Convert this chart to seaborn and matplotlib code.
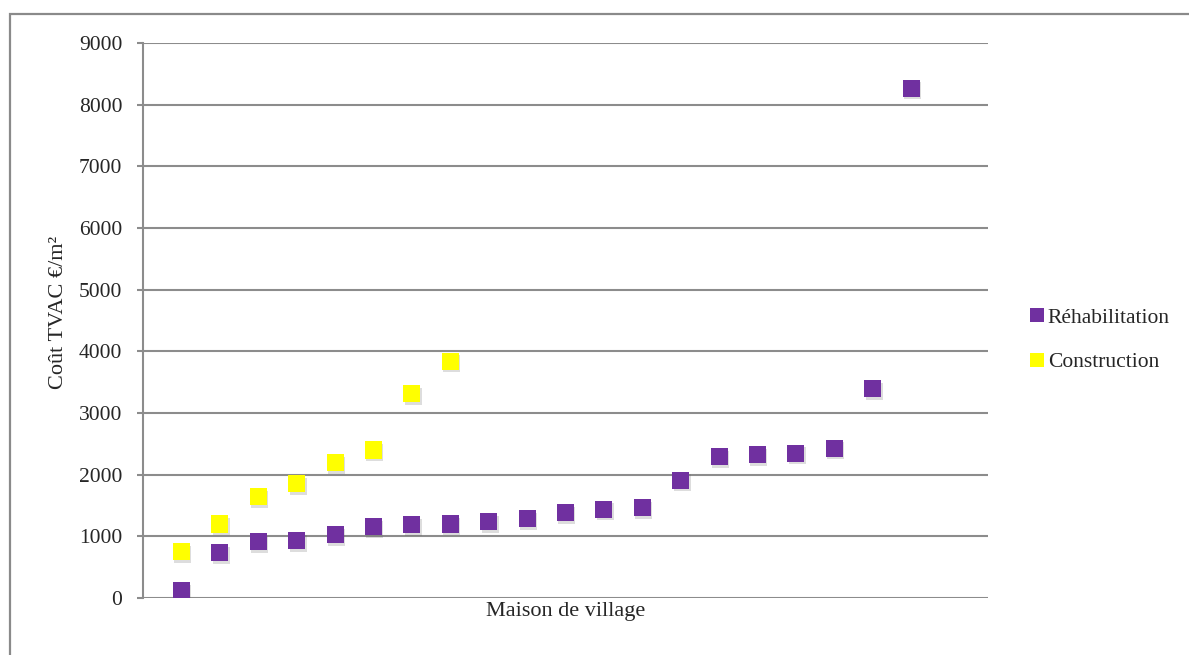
import matplotlib
matplotlib.use("Agg")
import matplotlib.pyplot as plt
import matplotlib.patheffects as pe
from matplotlib.patches import Rectangle
import seaborn as sns
import pandas as pd

# Coût TVAC par m² des maisons de village, triés par ordre croissant
rehabilitation = [120, 730, 920, 930, 1030, 1160, 1190, 1200, 1240, 1290,
                  1390, 1440, 1470, 1910, 2290, 2320, 2350, 2430, 3390, 8270]
construction = [750, 1200, 1650, 1850, 2200, 2400, 3320, 3840]
series_names = ["Réhabilitation", "Construction"]
series_colors = ["#7030A0", "#FFFF00"]
y_ticks = [0, 1000, 2000, 3000, 4000, 5000, 6000, 7000, 8000, 9000]

df = pd.concat([
    pd.DataFrame({"rang": range(1, len(rehabilitation) + 1),
                  "cout": rehabilitation, "type": series_names[0]}),
    pd.DataFrame({"rang": range(1, len(construction) + 1),
                  "cout": construction, "type": series_names[1]}),
], ignore_index=True)

sns.set_style("white")
plt.rcParams["font.family"] = ["Liberation Serif", "DejaVu Serif"]

fig = plt.figure(figsize=(11.89, 6.55), dpi=100)
# cadre gris autour du graphique
fig.patches.append(Rectangle((10 / 1189, -0.1), 1.2, (655 - 14) / 655 + 0.1,
                             transform=fig.transFigure, fill=False,
                             edgecolor="#8a8a8a", linewidth=1.6))
ax = fig.add_axes([143 / 1189, 57 / 655, 845 / 1189, 555 / 655])

sns.scatterplot(data=df, x="rang", y="cout", hue="type",
                palette=dict(zip(series_names, series_colors)),
                marker="s", s=150, linewidth=0, ax=ax, legend=False, zorder=3)
for coll in ax.collections:
    coll.set_path_effects([pe.SimplePatchShadow(offset=(1.0, -2.0),
                                                shadow_rgbFace="#666666",
                                                alpha=0.22),
                           pe.Normal()])

ax.set_xlim(0, 22)
ax.set_ylim(0, 9000)
ax.set_yticks(y_ticks)
ax.set_xticks([])
ax.grid(axis="y", color="#8c8c8c", linewidth=1.5)
ax.set_axisbelow(True)
for side in ["top", "right", "bottom"]:
    ax.spines[side].set_visible(False)
ax.spines["left"].set_color("#8c8c8c")
ax.spines["left"].set_linewidth(1.5)
ax.tick_params(axis="y", length=4.5, width=1.5, color="#8c8c8c",
               labelsize=15.5, pad=10.5, left=True)
ax.set_xlabel("Maison de village", fontsize=16, labelpad=3)
ax.set_ylabel("Coût TVAC €/m²", fontsize=16)
ax.yaxis.set_label_coords(-0.089, 0.514)

handles = [plt.Line2D([], [], marker="s", linestyle="none", markersize=10,
                      markerfacecolor=c, markeredgewidth=0)
           for c in series_colors]
fig.legend(handles, series_names, loc="center left",
           bbox_to_anchor=(1007 / 1189, 1 - 340 / 655), frameon=False,
           fontsize=15.5, handletextpad=0.0, handlelength=1.0,
           labelspacing=1.15)

fig.savefig("out.png", dpi=100)
